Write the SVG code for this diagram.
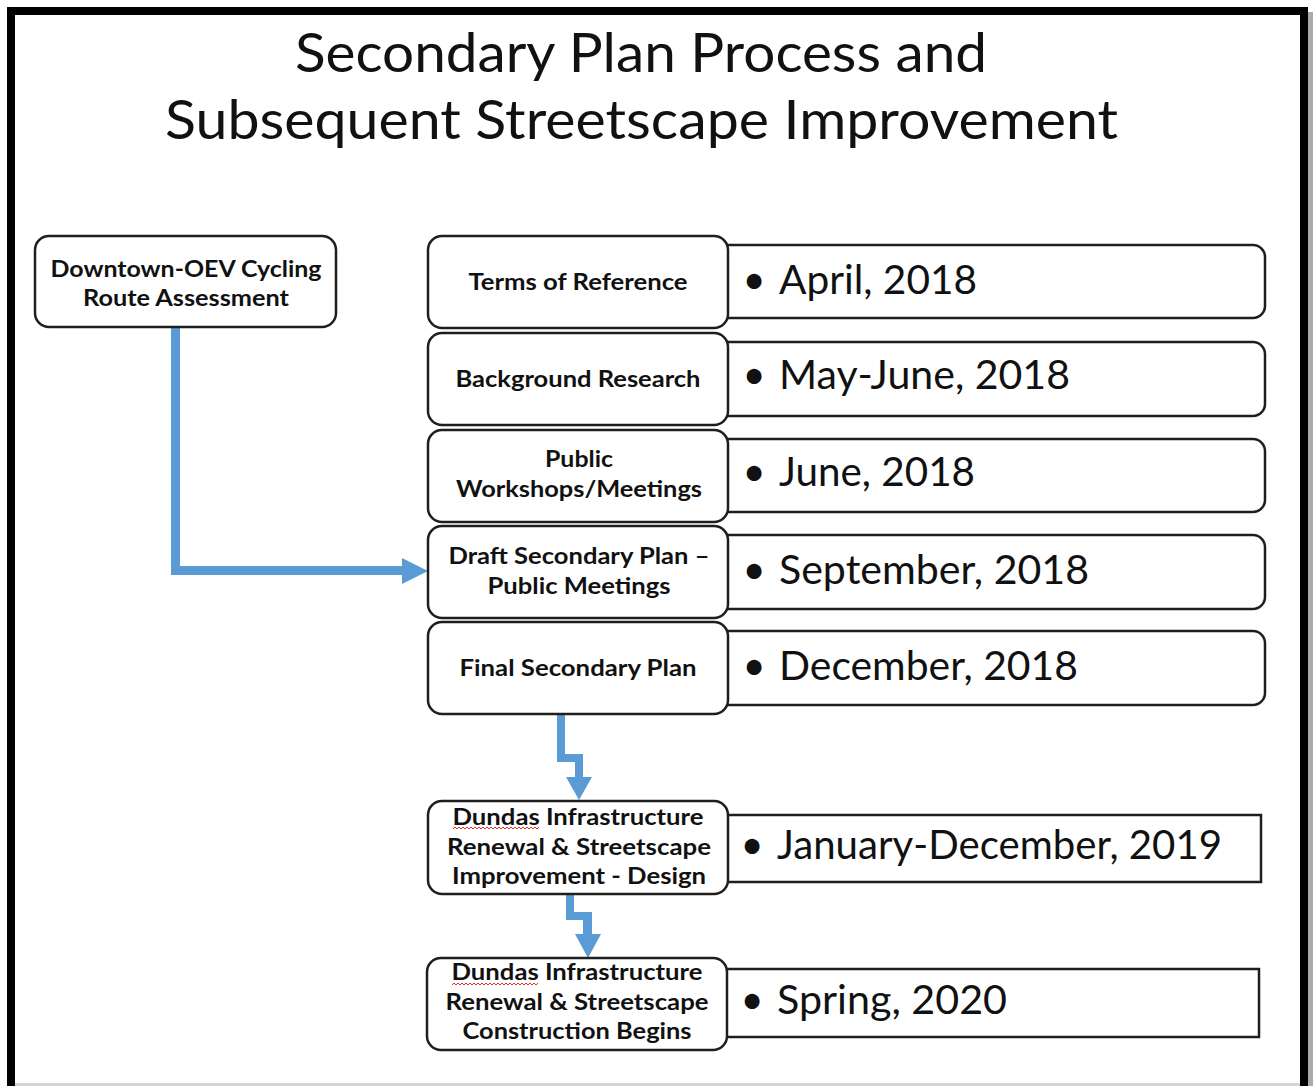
<svg xmlns="http://www.w3.org/2000/svg" width="1315" height="1086" viewBox="0 0 1315 1086">
<style>
.title{font-family:Lato,"Liberation Sans",sans-serif;font-size:55px;fill:#111;}
.lbl{font-family:Lato,"Liberation Sans",sans-serif;font-size:22px;font-weight:bold;fill:#111;text-anchor:middle;}
.date{font-family:Lato,"Liberation Sans",sans-serif;font-size:40px;fill:#111;}
.bul{font-family:Lato,"Liberation Sans",sans-serif;font-size:40px;fill:#111;text-anchor:middle;}
.box{fill:#fff;stroke:#1e1e1e;stroke-width:2.5;}
.arrow{fill:#5B9BD5;}
.squig{fill:none;stroke:#e03030;stroke-width:1;}
</style>
<rect x="0" y="0" width="1315" height="1086" fill="#fff"/>
<rect x="1308" y="12" width="5" height="1074" fill="#aaa"/>
<rect x="15" y="1083" width="1285" height="3" fill="#d4d4d4"/>
<rect x="11" y="11" width="1293" height="1100" fill="none" stroke="#000" stroke-width="8"/>

<g id="title">
<text class="title" x="295" y="72" textLength="692" lengthAdjust="spacingAndGlyphs">Secondary Plan Process and</text>
<text class="title" x="165" y="139" textLength="953" lengthAdjust="spacingAndGlyphs">Subsequent Streetscape Improvement</text>
</g>

<g id="connectors">
<polygon class="arrow" points="171,326 180,326 180,566 402,566 402,558 428,571 402,584 402,575 171,575"/>
<polygon class="arrow" points="557,713 565,713 565,754 583,754 583,777 592,777 579,800 566,777 575,777 575,762 557,762"/>
<polygon class="arrow" points="566,892 574,892 574,912 592,912 592,934 601,934 588,958 575,934 583,934 583,920 566,920"/>
</g>

<g id="cycling">
<rect class="box" x="35" y="236" width="301" height="91" rx="14"/>
<text class="lbl" x="186" y="277" textLength="271" lengthAdjust="spacingAndGlyphs">Downtown-OEV Cycling</text>
<text class="lbl" x="186" y="306" textLength="206" lengthAdjust="spacingAndGlyphs">Route Assessment</text>
</g>

<g id="date1">
<rect class="box" x="700" y="245" width="565" height="73" rx="12"/>
<text class="bul" x="754" y="294">•</text>
<text class="date" x="779" y="294" textLength="198" lengthAdjust="spacingAndGlyphs">April, 2018</text>
</g>
<g id="date2">
<rect class="box" x="700" y="342" width="565" height="74" rx="12"/>
<text class="bul" x="754" y="389">•</text>
<text class="date" x="779" y="389" textLength="291" lengthAdjust="spacingAndGlyphs">May-June, 2018</text>
</g>
<g id="date3">
<rect class="box" x="700" y="439" width="565" height="73" rx="12"/>
<text class="bul" x="754" y="486">•</text>
<text class="date" x="779" y="486" textLength="196" lengthAdjust="spacingAndGlyphs">June, 2018</text>
</g>
<g id="date4">
<rect class="box" x="700" y="535" width="565" height="74" rx="12"/>
<text class="bul" x="754" y="584">•</text>
<text class="date" x="779" y="584" textLength="310" lengthAdjust="spacingAndGlyphs">September, 2018</text>
</g>
<g id="date5">
<rect class="box" x="700" y="631" width="565" height="74" rx="12"/>
<text class="bul" x="754" y="680">•</text>
<text class="date" x="779" y="680" textLength="299" lengthAdjust="spacingAndGlyphs">December, 2018</text>
</g>
<g id="date6">
<rect class="box" x="700" y="815" width="561" height="67"/>
<text class="bul" x="752" y="859">•</text>
<text class="date" x="777" y="859" textLength="445" lengthAdjust="spacingAndGlyphs">January-December, 2019</text>
</g>
<g id="date7">
<rect class="box" x="700" y="969" width="559" height="68"/>
<text class="bul" x="752" y="1014">•</text>
<text class="date" x="777" y="1014" textLength="230" lengthAdjust="spacingAndGlyphs">Spring, 2020</text>
</g>

<g id="terms">
<rect class="box" x="428" y="236" width="300" height="92" rx="14"/>
<text class="lbl" x="578" y="290" textLength="219" lengthAdjust="spacingAndGlyphs">Terms of Reference</text>
</g>
<g id="background">
<rect class="box" x="428" y="333" width="300" height="92" rx="14"/>
<text class="lbl" x="578" y="387" textLength="245" lengthAdjust="spacingAndGlyphs">Background Research</text>
</g>
<g id="workshops">
<rect class="box" x="428" y="430" width="300" height="92" rx="14"/>
<text class="lbl" x="579" y="467" textLength="68" lengthAdjust="spacingAndGlyphs">Public</text>
<text class="lbl" x="579" y="497" textLength="246" lengthAdjust="spacingAndGlyphs">Workshops/Meetings</text>
</g>
<g id="draft">
<rect class="box" x="428" y="526" width="300" height="92" rx="14"/>
<text class="lbl" x="579" y="564" textLength="261" lengthAdjust="spacingAndGlyphs">Draft Secondary Plan –</text>
<text class="lbl" x="579" y="594" textLength="183" lengthAdjust="spacingAndGlyphs">Public Meetings</text>
</g>
<g id="final">
<rect class="box" x="428" y="622" width="300" height="92" rx="14"/>
<text class="lbl" x="578" y="676" textLength="237" lengthAdjust="spacingAndGlyphs">Final Secondary Plan</text>
</g>
<g id="design">
<rect class="box" x="428" y="801" width="300" height="93" rx="14"/>
<text class="lbl" x="578" y="825" textLength="251" lengthAdjust="spacingAndGlyphs">Dundas Infrastructure</text>
<polyline class="squig" points="453,829 455,827 457,829 459,827 461,829 463,827 465,829 467,827 469,829 471,827 473,829 475,827 477,829 479,827 481,829 483,827 485,829 487,827 489,829 491,827 493,829 495,827 497,829 499,827 501,829 503,827 505,829 507,827 509,829 511,827 513,829 515,827 517,829 519,827 521,829 523,827 525,829 527,827 529,829 531,827 533,829 535,827 537,829 539,827"/>
<text class="lbl" x="579" y="855" textLength="264" lengthAdjust="spacingAndGlyphs">Renewal &amp; Streetscape</text>
<text class="lbl" x="579" y="884" textLength="254" lengthAdjust="spacingAndGlyphs">Improvement - Design</text>
</g>
<g id="construction">
<rect class="box" x="427" y="958" width="300" height="92" rx="14"/>
<text class="lbl" x="577" y="980" textLength="251" lengthAdjust="spacingAndGlyphs">Dundas Infrastructure</text>
<polyline class="squig" points="452,985 454,983 456,985 458,983 460,985 462,983 464,985 466,983 468,985 470,983 472,985 474,983 476,985 478,983 480,985 482,983 484,985 486,983 488,985 490,983 492,985 494,983 496,985 498,983 500,985 502,983 504,985 506,983 508,985 510,983 512,985 514,983 516,985 518,983 520,985 522,983 524,985 526,983 528,985 530,983 532,985 534,983 536,985 538,983"/>
<text class="lbl" x="577" y="1010" textLength="263" lengthAdjust="spacingAndGlyphs">Renewal &amp; Streetscape</text>
<text class="lbl" x="577" y="1039" textLength="229" lengthAdjust="spacingAndGlyphs">Construction Begins</text>
</g>
</svg>
